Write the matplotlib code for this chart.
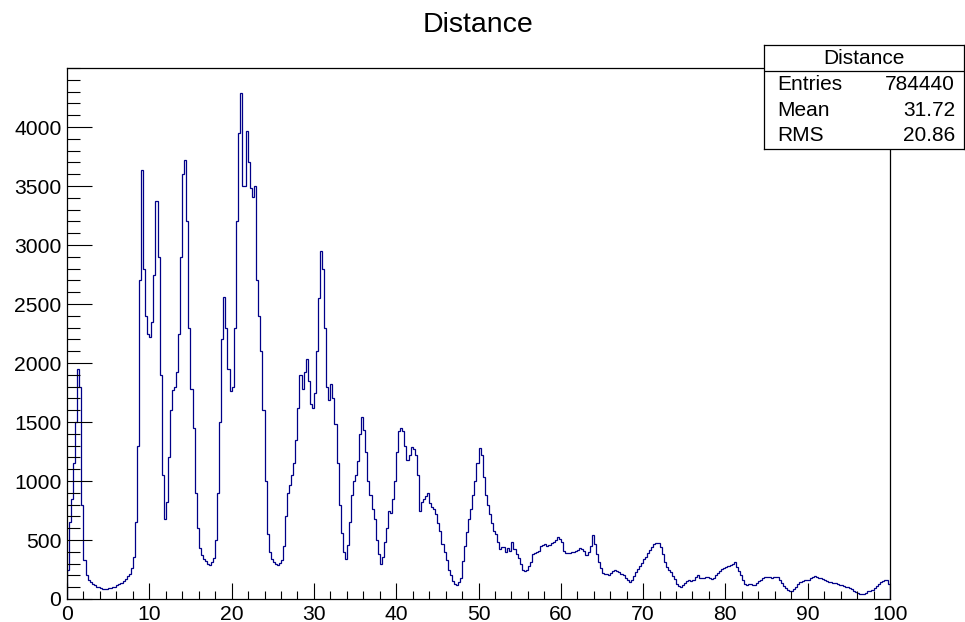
import numpy as np
import matplotlib
matplotlib.use("Agg")
import matplotlib.pyplot as plt
from matplotlib.ticker import MultipleLocator

# ---- data: bin contents, 0.25-wide bins from 0 to 100 ----
counts_00_10 = [250, 650, 850, 1150, 1500, 1950, 1800, 800, 330, 200,
                160, 140, 125, 115, 105, 100, 92, 85, 88, 82,
                90, 92, 98, 105, 115, 125, 135, 155, 170, 195,
                215, 260, 360, 650, 1300, 2700, 3640, 2800, 2400, 2250]
counts_10_20 = [2220, 2350, 2750, 3370, 2900, 1900, 1050, 680, 820, 1200,
                1600, 1770, 1800, 1920, 2250, 2900, 3600, 3720, 3200, 2300,
                1780, 1450, 900, 600, 430, 370, 340, 320, 300, 290,
                310, 350, 500, 900, 1500, 2200, 2560, 2300, 1950, 1760]
counts_20_30 = [1800, 2300, 3200, 3950, 4286, 3500, 3500, 3966, 3700, 3480,
                3410, 3500, 2700, 2400, 2100, 1600, 1000, 550, 400, 340,
                310, 300, 290, 305, 330, 450, 700, 900, 970, 1050,
                1150, 1350, 1620, 1900, 1780, 1920, 2030, 1850, 1650, 1620]
counts_30_40 = [1750, 2100, 2550, 2950, 2800, 2300, 1800, 1690, 1820, 1700,
                1480, 1150, 800, 560, 400, 340, 460, 650, 880, 1000,
                1050, 1170, 1400, 1540, 1430, 1250, 1000, 880, 760, 680,
                500, 380, 300, 360, 480, 600, 750, 730, 850, 1000]
counts_40_50 = [1250, 1420, 1450, 1420, 1300, 1180, 1220, 1290, 1270, 1220,
                1050, 750, 820, 850, 870, 900, 810, 780, 760, 720,
                640, 580, 470, 400, 330, 250, 200, 150, 130, 120,
                140, 180, 320, 450, 570, 680, 760, 880, 1000, 1150]
counts_50_60 = [1280, 1220, 1030, 880, 800, 720, 640, 580, 550, 480,
                420, 440, 440, 400, 430, 410, 480, 420, 380, 350,
                300, 250, 240, 245, 280, 310, 380, 390, 400, 410,
                445, 460, 470, 445, 460, 472, 480, 500, 528, 510]
counts_60_70 = [480, 410, 390, 387, 390, 395, 400, 405, 415, 430,
                420, 410, 375, 400, 450, 540, 470, 380, 310, 260,
                220, 215, 215, 205, 220, 235, 245, 240, 230, 215,
                200, 180, 160, 148, 165, 195, 225, 255, 280, 305]
counts_70_80 = [335, 360, 390, 415, 440, 465, 478, 475, 440, 380,
                310, 270, 245, 225, 195, 170, 130, 108, 100, 115,
                135, 155, 160, 150, 160, 185, 200, 180, 175, 180,
                190, 190, 175, 170, 180, 200, 220, 240, 255, 262]
counts_80_90 = [272, 280, 290, 300, 310, 275, 240, 200, 160, 130,
                120, 125, 128, 122, 120, 132, 150, 165, 178, 185,
                190, 186, 182, 188, 190, 185, 160, 135, 110, 90,
                75, 65, 70, 85, 100, 125, 148, 155, 160, 162]
counts_90_100 = [165, 175, 188, 196, 190, 182, 175, 168, 160, 150,
                 148, 145, 135, 133, 130, 122, 118, 110, 104, 98,
                 90, 82, 70, 60, 52, 45, 42, 46, 55, 64,
                 72, 80, 90, 110, 128, 145, 155, 162, 160, 130]

x_range = (0, 100)
title = "Distance"
stats_labels = ["Entries", "Mean", "RMS"]
stats_values = ["784440", "31.72", "20.86"]
x_tick_labels = ["0", "10", "20", "30", "40", "50", "60", "70", "80", "90", "100"]
y_tick_labels = ["0", "500", "1000", "1500", "2000", "2500", "3000", "3500", "4000"]

counts = np.array(counts_00_10 + counts_10_20 + counts_20_30 + counts_30_40 +
                  counts_40_50 + counts_50_60 + counts_60_70 + counts_70_80 +
                  counts_80_90 + counts_90_100, dtype=float)
edges = np.linspace(x_range[0], x_range[1], len(counts) + 1)

FONT = "Liberation Sans"
W, H = 965, 622
fig = plt.figure(figsize=(W / 100, H / 100), dpi=100)

# main axes (pixel frame: x 67..890, y 68..599 from top)
L, R, T, B = 67, 890, 68, 599
ax = fig.add_axes([L / W, 1 - B / H, (R - L) / W, (B - T) / H])
ax.stairs(counts, edges, color="#000088", linewidth=0.9, baseline=0)
ax.set_xlim(*x_range)
ax.set_ylim(0, 1.05 * counts.max())

ax.set_xticks([float(t) for t in x_tick_labels])
ax.set_xticklabels(x_tick_labels)
ax.set_yticks([float(t) for t in y_tick_labels])
ax.set_yticklabels(y_tick_labels)
ax.xaxis.set_minor_locator(MultipleLocator(2))
ax.yaxis.set_minor_locator(MultipleLocator(100))
ax.tick_params(axis="y", which="major", direction="in", length=18, width=0.8, pad=4,
               labelsize=15.2, right=False)
ax.tick_params(axis="y", which="minor", direction="in", length=9, width=0.8, right=False)
ax.tick_params(axis="x", which="major", direction="in", length=11.5, width=0.8, pad=4,
               labelsize=15.2, top=False)
ax.tick_params(axis="x", which="minor", direction="in", length=5.8, width=0.8, top=False)
for lab in ax.get_xticklabels() + ax.get_yticklabels():
    lab.set_fontfamily(FONT)
for s in ax.spines.values():
    s.set_linewidth(0.9)
    s.set_color("black")

# title
fig.text(478 / W, 1 - 25 / H, title, ha="center", va="center",
         fontsize=20.5, family=FONT)

# stats box (pixel: x 764..964, y 45..149)
bx0, bx1, by0, by1 = 764, 964, 45, 149
sax = fig.add_axes([bx0 / W, 1 - by1 / H, (bx1 - bx0) / W, (by1 - by0) / H])
sax.set_zorder(5)
sax.set_facecolor("white")
sax.set_xlim(0, 1)
sax.set_ylim(0, 1)
sax.set_xticks([])
sax.set_yticks([])
for s in sax.spines.values():
    s.set_linewidth(0.9)
    s.set_color("black")
row_h = 1 / 4
sax.axhline(1 - row_h, color="black", linewidth=0.9)
sax.text(0.5, 1 - row_h / 2, title, ha="center", va="center", fontsize=15, family=FONT)
for i, (lab, val) in enumerate(zip(stats_labels, stats_values)):
    yc = 1 - row_h * (i + 1.5)
    sax.text(0.065, yc, lab, ha="left", va="center", fontsize=15, family=FONT)
    sax.text(0.955, yc, val, ha="right", va="center", fontsize=15, family=FONT)

fig.savefig("out.png", dpi=100)
